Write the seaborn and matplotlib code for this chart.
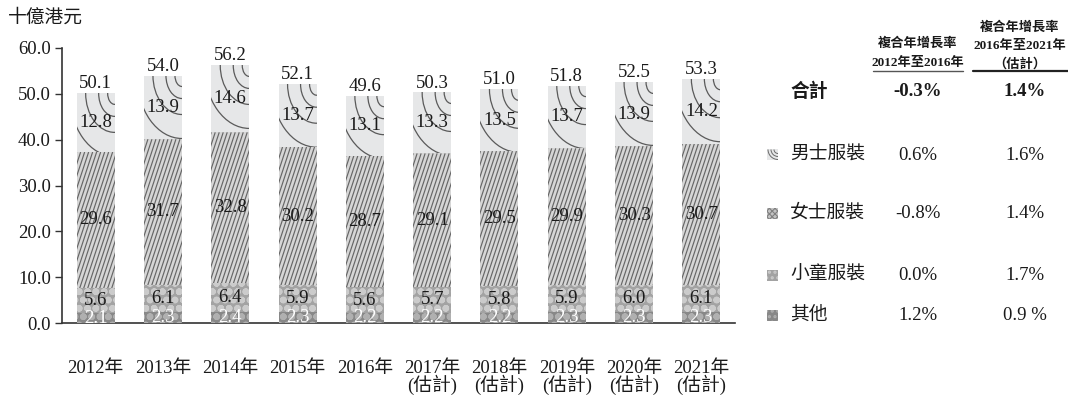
import numpy as np
import pandas as pd
import matplotlib
matplotlib.use("Agg")
import matplotlib.pyplot as plt
import seaborn as sns
from matplotlib.patches import Ellipse, Rectangle, Arc
from matplotlib.collections import LineCollection
from matplotlib.lines import Line2D

# ---------------- data ----------------
years = ["2012年", "2013年", "2014年", "2015年", "2016年",
         "2017年\n(估計)", "2018年\n(估計)", "2019年\n(估計)",
         "2020年\n(估計)", "2021年\n(估計)"]
others = [2.1, 2.3, 2.4, 2.3, 2.2, 2.2, 2.2, 2.3, 2.3, 2.3]
kids = [5.6, 6.1, 6.4, 5.9, 5.6, 5.7, 5.8, 5.9, 6.0, 6.1]
women = [29.6, 31.7, 32.8, 30.2, 28.7, 29.1, 29.5, 29.9, 30.3, 30.7]
men = [12.8, 13.9, 14.6, 13.7, 13.1, 13.3, 13.5, 13.7, 13.9, 14.2]
totals = [50.1, 54.0, 56.2, 52.1, 49.6, 50.3, 51.0, 51.8, 52.5, 53.3]

unit_label = "十億港元"
yticks = [0, 10, 20, 30, 40, 50, 60]

row_labels = ["合計", "男士服裝", "女士服裝", "小童服裝", "其他"]
cagr_a = ["-0.3%", "0.6%", "-0.8%", "0.0%", "1.2%"]
cagr_b = ["1.4%", "1.6%", "1.4%", "1.7%", "0.9 %"]
head_a = ["複合年增長率", "2012年至2016年"]
head_b = ["複合年增長率", "2016年至2021年", "（估計）"]

# ---------------- style ----------------
sns.set_theme(style="white")
plt.rcParams["font.family"] = ["Liberation Serif", "Noto Sans CJK TC", "DejaVu Sans"]
plt.rcParams["axes.unicode_minus"] = False

W, H = 1068, 399
fig = plt.figure(figsize=(W / 100, H / 100), dpi=100)


def fx(px):
    return px / W


def fy(py):
    return 1 - py / H


ax = fig.add_axes([fx(62), fy(323), fx(735) - fx(62), fy(48) - fy(323)])

df = pd.DataFrame({"year": years, "others": others, "kids": kids,
                   "women": women, "men": men})
df["c_others"] = df["others"]
df["c_kids"] = df["c_others"] + df["kids"]
df["c_women"] = df["c_kids"] + df["women"]
df["c_men"] = df["c_women"] + df["men"]

BW = 0.565
FS = 13.5
TXT = "#1a1a1a"

# men (full height), light grey
sns.barplot(data=df, x="year", y="c_men", color="#e6e7e8", width=BW, saturation=1,
            linewidth=0, ax=ax, zorder=2)
men_bars = list(ax.patches)

# women
sns.barplot(data=df, x="year", y="c_women", color="#d6d6d6", width=BW, saturation=1,
            linewidth=0, ax=ax, zorder=4)
women_bars = list(ax.patches)[len(men_bars):]

# kids (dots)
plt.rcParams["hatch.linewidth"] = 2.4
sns.barplot(data=df, x="year", y="c_kids", color="#a3a3a3", width=BW, saturation=1,
            linewidth=0, edgecolor="#cbcbcb", hatch="oo", ax=ax, zorder=6)
# others (dots)
sns.barplot(data=df, x="year", y="c_others", color="#888888", width=BW, saturation=1,
            linewidth=0, edgecolor="#b0b0b0", hatch="oo", ax=ax, zorder=7)

ax.set_xlim(-0.5, 9.5)
ax.set_ylim(0, 60)

# pixel scale
p0 = ax.transData.transform((0, 0))
p1 = ax.transData.transform((1, 1))
ppx = p1[0] - p0[0]
ppy = p1[1] - p0[1]

# concentric arcs for the men's segment (from top-right corner of each bar)
arc_rx = [7, 16, 29, 45]
arc_ry = [11, 23, 39, 63]
for b in men_bars:
    xr = b.get_x() + b.get_width()
    top = b.get_height()
    for rx, ry in zip(arc_rx, arc_ry):
        e = Ellipse((xr, top), 2 * rx / ppx, 2 * ry / ppy, fill=False,
                    edgecolor="#5a5a5a", lw=0.9, zorder=3)
        ax.add_patch(e)
        e.set_clip_path(b)

# steep diagonal lines for the women's segment
for b in women_bars:
    x0 = b.get_x()
    w = b.get_width()
    y1 = b.get_height()
    hpx = y1 * ppy
    shift = 0.33 * hpx / ppx
    step = 4.0 / ppx
    segs = []
    s = x0 - shift
    while s < x0 + w:
        segs.append([(s, 0), (s + shift, y1)])
        s += step
    lc = LineCollection(segs, colors="#666666", linewidths=0.85, zorder=5)
    ax.add_collection(lc)
    lc.set_clip_path(b)

# value labels
for i in range(len(years)):
    ax.text(i, df["c_others"][i] / 2, f"{others[i]:.1f}", ha="center", va="center",
            fontsize=FS, color="white", zorder=10)
    ax.text(i, df["c_others"][i] + kids[i] / 2, f"{kids[i]:.1f}", ha="center",
            va="center", fontsize=FS, color=TXT, zorder=10)
    ax.text(i, df["c_kids"][i] + women[i] / 2, f"{women[i]:.1f}", ha="center",
            va="center", fontsize=FS, color=TXT, zorder=10)
    ax.text(i, df["c_women"][i] + men[i] / 2, f"{men[i]:.1f}", ha="center",
            va="center", fontsize=FS, color=TXT, zorder=10)
    ax.text(i, totals[i] + 0.2, f"{totals[i]:.1f}", ha="center", va="bottom",
            fontsize=FS, color=TXT, zorder=10)

# axes styling
ax.set_xlabel("")
ax.set_ylabel("")
ax.set_yticks(yticks)
ax.set_yticklabels([f"{v:.1f}" for v in yticks], fontsize=FS, color=TXT)
ax.set_xticks(range(len(years)))
ax.set_xticklabels(years, fontsize=FS, color=TXT, linespacing=0.82)
ax.tick_params(axis="x", length=0, pad=27)
ax.tick_params(axis="y", length=5, width=1, color="#333333", direction="out", pad=3,
               left=True)
for s in ["top", "right"]:
    ax.spines[s].set_visible(False)
for s in ["left", "bottom"]:
    ax.spines[s].set_color("#333333")
    ax.spines[s].set_linewidth(1.2)
ax.grid(False)

fig.text(fx(8), fy(18), unit_label, fontsize=FS, ha="left", va="center", color=TXT)

# ---------------- table at right ----------------
HF = 9.5
cxa, cxb = 918, 1020
for k, t in enumerate(head_a):
    fig.text(fx(cxa), fy(44 + k * 19), t, fontsize=HF, fontweight="bold",
             ha="center", va="center", color=TXT)
for k, t in enumerate(head_b):
    fig.text(fx(cxb), fy(28 + k * 18), t, fontsize=HF, fontweight="bold",
             ha="center", va="center", color=TXT)
fig.add_artist(Line2D([fx(873), fx(963)], [fy(71), fy(71)], color="#555555", lw=1.0))
fig.add_artist(Line2D([fx(973), fx(1068)], [fy(71), fy(71)], color="#222222", lw=1.6))

row_y = [92, 155, 213, 275, 315]
for k, (lab, a, b) in enumerate(zip(row_labels, cagr_a, cagr_b)):
    wt = "bold" if k == 0 else "normal"
    fig.text(fx(790), fy(row_y[k]), lab, fontsize=FS, ha="left", va="center",
             color=TXT, fontweight=wt)
    fig.text(fx(cxa), fy(row_y[k]), a, fontsize=FS, ha="center", va="center",
             color=TXT, fontweight=wt)
    fig.text(fx(1025), fy(row_y[k]), b, fontsize=FS, ha="center", va="center",
             color=TXT, fontweight=wt)

# legend swatches
sq = 11


def swatch(py, fc, ec=None, hatch=None):
    r = Rectangle((fx(767), fy(py + sq / 2)), sq / W, sq / H, transform=fig.transFigure,
                  facecolor=fc, edgecolor=ec if ec else fc, lw=0, hatch=hatch)
    fig.add_artist(r)
    return r


swatch(row_y[1], "#e6e7e8")
for r in [4, 7, 10]:
    fig.add_artist(Arc((fx(778), fy(row_y[1] - sq / 2)), 2 * r / W, 2 * r / H,
                       theta1=180, theta2=270, transform=fig.transFigure,
                       color="#6a6a6a", lw=0.7))
plt.rcParams["hatch.linewidth"] = 0.8
swatch(row_y[2], "#c4c4c4", "#808080", "xxxxxx")
plt.rcParams["hatch.linewidth"] = 1.5
swatch(row_y[3], "#a3a3a3", "#cbcbcb", "...")
swatch(row_y[4], "#888888", "#b0b0b0", "...")

fig.savefig("out.png", dpi=100)
